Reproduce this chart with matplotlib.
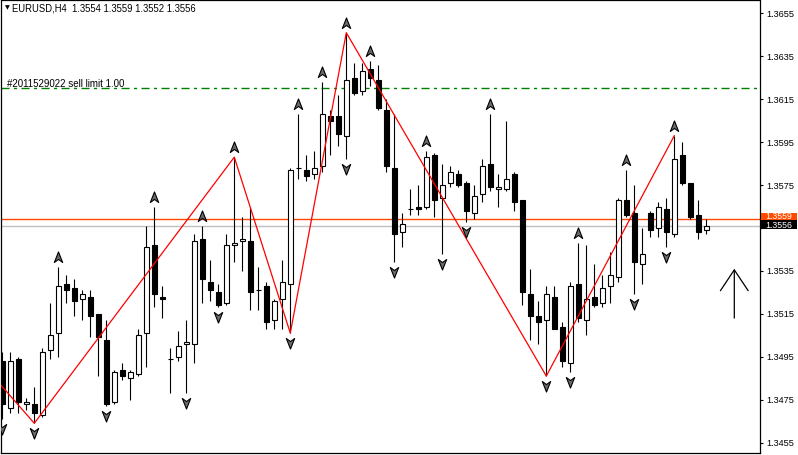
import numpy as np
import matplotlib
matplotlib.use("Agg")
import matplotlib.pyplot as plt
from matplotlib.path import Path
from matplotlib.patches import Rectangle
from matplotlib.transforms import offset_copy, blended_transform_factory

# EURUSD H4 bars, oldest first
opens = [1.3493, 1.3471, 1.3494, 1.3473, 1.3473, 1.3468, 1.3498, 1.3506, 1.3529, 1.3527,
         1.3522, 1.3523, 1.3515, 1.3503, 1.3474, 1.3489, 1.3485, 1.3487, 1.3506, 1.3547,
         1.3523, 1.3494, 1.3495, 1.3501, 1.3501, 1.3550, 1.3530, 1.3525, 1.3520, 1.3547,
         1.3549, 1.3549, 1.3526, 1.3528, 1.3512, 1.3522, 1.3529, 1.3583, 1.3582, 1.3580,
         1.3584, 1.3607, 1.3607, 1.3598, 1.3625, 1.3619, 1.3629, 1.3624, 1.3610, 1.3583,
         1.3553, 1.3564, 1.3565, 1.3565, 1.3589, 1.3569, 1.3576, 1.3580, 1.3576, 1.3562,
         1.3571, 1.3585, 1.3573, 1.3573, 1.3580, 1.3568, 1.3524, 1.3514, 1.3512, 1.3523,
         1.3509, 1.3492, 1.3529, 1.3512, 1.3523, 1.3520, 1.3528, 1.3532, 1.3568, 1.3562,
         1.3538, 1.3562, 1.3555, 1.3564, 1.3552, 1.3589, 1.3576, 1.3561, 1.3554]
highs = [1.3497, 1.3497, 1.3495, 1.3476, 1.3481, 1.3499, 1.3520, 1.3537, 1.3533, 1.3531,
         1.3526, 1.3526, 1.3515, 1.3512, 1.3489, 1.3492, 1.3489, 1.3508, 1.3556, 1.3565,
         1.3528, 1.3499, 1.3507, 1.3512, 1.3552, 1.3556, 1.3540, 1.3529, 1.3552, 1.3588,
         1.3560, 1.3565, 1.3537, 1.3530, 1.3522, 1.3540, 1.3583, 1.3608, 1.3589, 1.3591,
         1.3623, 1.3610, 1.3617, 1.3646, 1.3632, 1.3632, 1.3633, 1.3631, 1.3615, 1.3608,
         1.3562, 1.3573, 1.3575, 1.3591, 1.3590, 1.3585, 1.3584, 1.3582, 1.3577, 1.3575,
         1.3587, 1.3608, 1.3580, 1.3605, 1.3581, 1.3568, 1.3536, 1.3521, 1.3528, 1.3528,
         1.3511, 1.3530, 1.3548, 1.3547, 1.3538, 1.3533, 1.3544, 1.3569, 1.3582, 1.3575,
         1.3555, 1.3563, 1.3567, 1.3569, 1.3598, 1.3595, 1.3576, 1.3568, 1.3559]
lows = [1.3466, 1.3469, 1.3469, 1.3470, 1.3464, 1.3467, 1.3494, 1.3495, 1.3520, 1.3514,
        1.3512, 1.3504, 1.3486, 1.3472, 1.3473, 1.3484, 1.3475, 1.3486, 1.3490, 1.3518,
        1.3513, 1.3478, 1.3493, 1.3478, 1.3492, 1.3520, 1.3521, 1.3518, 1.3519, 1.3539,
        1.3535, 1.3517, 1.3517, 1.3508, 1.3508, 1.3508, 1.3506, 1.3578, 1.3577, 1.3578,
        1.3581, 1.3589, 1.3593, 1.3587, 1.3617, 1.3617, 1.3621, 1.3610, 1.3581, 1.3539,
        1.3546, 1.3561, 1.3561, 1.3564, 1.3560, 1.3543, 1.3574, 1.3574, 1.3558, 1.3559,
        1.3567, 1.3572, 1.3565, 1.3572, 1.3563, 1.3519, 1.3503, 1.3501, 1.3486, 1.3508,
        1.3490, 1.3488, 1.3511, 1.3505, 1.3518, 1.3518, 1.3520, 1.3530, 1.3560, 1.3524,
        1.3529, 1.3551, 1.3551, 1.3546, 1.3551, 1.3575, 1.3559, 1.3550, 1.3552]
closes = [1.3473, 1.3493, 1.3474, 1.3474, 1.3469, 1.3497, 1.3505, 1.3528, 1.3526, 1.3521,
          1.3524, 1.3514, 1.3504, 1.3473, 1.3488, 1.3486, 1.3488, 1.3505, 1.3546, 1.3524,
          1.3522, 1.3494, 1.3500, 1.3502, 1.3549, 1.3531, 1.3526, 1.3519, 1.3547, 1.3548,
          1.3550, 1.3525, 1.3526, 1.3511, 1.3521, 1.3530, 1.3582, 1.3583, 1.3579, 1.3583,
          1.3608, 1.3605, 1.3599, 1.3624, 1.3618, 1.3628, 1.3625, 1.3611, 1.3584, 1.3552,
          1.3557, 1.3564, 1.3564, 1.3588, 1.3568, 1.3575, 1.3581, 1.3575, 1.3563, 1.3570,
          1.3584, 1.3574, 1.3574, 1.3578, 1.3567, 1.3525, 1.3514, 1.3511, 1.3524, 1.3508,
          1.3493, 1.3528, 1.3513, 1.3522, 1.3519, 1.3527, 1.3533, 1.3568, 1.3561, 1.3539,
          1.3543, 1.3554, 1.3565, 1.3553, 1.3587, 1.3576, 1.3560, 1.3553, 1.3556]

# fractals (bar index)
fractal_up = [7, 19, 25, 29, 37, 40, 43, 46, 53, 61, 72, 78, 84]
fractal_down = [0, 4, 13, 23, 27, 36, 43, 49, 55, 58, 68, 71, 79, 83]

# zigzag turning points (first one is off screen)
zigzag_idx = [-4, 4, 29, 36, 43, 68, 84]
zigzag_price = [1.3498, 1.3464, 1.3588, 1.3506, 1.3646, 1.3486, 1.3598]

ask = 1.3559
bid = 1.3556
order_price = 1.3620
order_label = "#2011529022 sell limit 1.00"
header = "EURUSD,H4  1.3554 1.3559 1.3552 1.3556"
yticks = [1.3455, 1.3475, 1.3495, 1.3515, 1.3535, 1.3555, 1.3575, 1.3595, 1.3615, 1.3635, 1.3655]

# signal arrow drawn on the right
signal_idx = 91.5
signal_from = 1.3513
signal_to = 1.3536

plt.rcParams['font.family'] = ['Liberation Sans', 'DejaVu Sans']

W, H = 798, 455
fig = plt.figure(figsize=(W / 100, H / 100), dpi=100, facecolor='white')
ax = fig.add_axes([1.3 / W, 1.7 / H, 758.4 / W, 452.8 / H])
ax.set_xlim(-0.125, 94.675)
ax.set_ylim(1.3450, 1.3661)
for s in ax.spines.values():
    s.set_linewidth(0.9)
    s.set_color('black')

x = np.arange(len(opens))
o = np.array(opens)
c = np.array(closes)

# candles
ax.vlines(x, lows, highs, color='black', lw=0.8, zorder=2)
body_colors = ['white' if cc >= oo else 'black' for oo, cc in zip(o, c)]
ax.bar(x, np.abs(c - o), bottom=np.minimum(o, c), width=0.58, color=body_colors,
       edgecolor='black', linewidth=0.8, zorder=3)

# price lines
ax.axhline(order_price, color='#008000', lw=1, dashes=(5.8, 3.2, 2.2, 3.2), zorder=1)
ax.axhline(ask, color='#ff4a00', lw=1, zorder=1)
ax.axhline(bid, color='#c0c0c0', lw=1, zorder=1)
ax.text(0.008, order_price, order_label, transform=offset_copy(
    blended_transform_factory(ax.transAxes, ax.transData), fig, y=1.3, units='points'),
    fontsize=7, va='baseline', ha='left', color='black')

# zigzag
ax.plot(zigzag_idx, zigzag_price, color='#ff0000', lw=0.9, zorder=4)

# fractal arrows
up_path = Path([(0, 1), (-0.75, -0.9), (0, -0.35), (0.75, -0.9), (0, 1)],
               [Path.MOVETO, Path.LINETO, Path.LINETO, Path.LINETO, Path.CLOSEPOLY])
down_path = Path([(0, -1), (-0.75, 0.9), (0, 0.35), (0.75, 0.9), (0, -1)],
                 [Path.MOVETO, Path.LINETO, Path.LINETO, Path.LINETO, Path.CLOSEPOLY])
hi = np.array(highs)
lo = np.array(lows)
ax.plot(fractal_up, hi[fractal_up], ls='none', marker=up_path, ms=8, mfc='#6a6a6a',
        mec='black', mew=0.8, zorder=5,
        transform=offset_copy(ax.transData, fig, y=7.2, units='points'))
ax.plot(fractal_down, lo[fractal_down], ls='none', marker=down_path, ms=8, mfc='#6a6a6a',
        mec='black', mew=0.8, zorder=5,
        transform=offset_copy(ax.transData, fig, y=-7.2, units='points'))

# signal arrow
ax.annotate('', xy=(signal_idx, signal_to), xytext=(signal_idx, signal_from),
            arrowprops=dict(arrowstyle='->,head_length=1.5,head_width=1.0', lw=0.9,
                            color='black', shrinkA=0, shrinkB=0, mutation_scale=10))

# right price axis; the label next to the bid is covered by the bid box
ax.set_xticks([])
ax.yaxis.tick_right()
ax.set_yticks(yticks)
ax.set_yticklabels(["" if abs(v - bid) < 0.0004 else f"{v:.4f}" for v in yticks])
ax.tick_params(axis='y', direction='out', length=2.5, width=0.8, pad=2, labelsize=6.6)

# bid / ask labels on the axis
pp = (1.3661 - 1.3450) / 452.8
bt = blended_transform_factory(ax.transAxes, ax.transData)
for price, bg, dy in [(ask, '#ff4a00', 3.0), (bid, 'black', 0.8)]:
    ax.add_patch(Rectangle((1.0 + 1.3 / 758.4, price - 3.5 * pp), 36 / 758.4, 9.5 * pp,
                           transform=bt, facecolor=bg, edgecolor='none', clip_on=False, zorder=6))
    ax.text(1.0 + 19.3 / 758.4, price + dy * pp, f"{price:.4f}", transform=bt, color='white',
            fontsize=6.3, ha='center', va='center', clip_on=False, zorder=7)

# header
fig.text(5 / W, 1 - 8 / H, "\u25bc", fontsize=4.5, va='center', ha='left', family='DejaVu Sans')
fig.text(12 / W, 1 - 8.3 / H, header, fontsize=6.85, va='center', ha='left')

fig.savefig("out.png", dpi=100, facecolor='white')
